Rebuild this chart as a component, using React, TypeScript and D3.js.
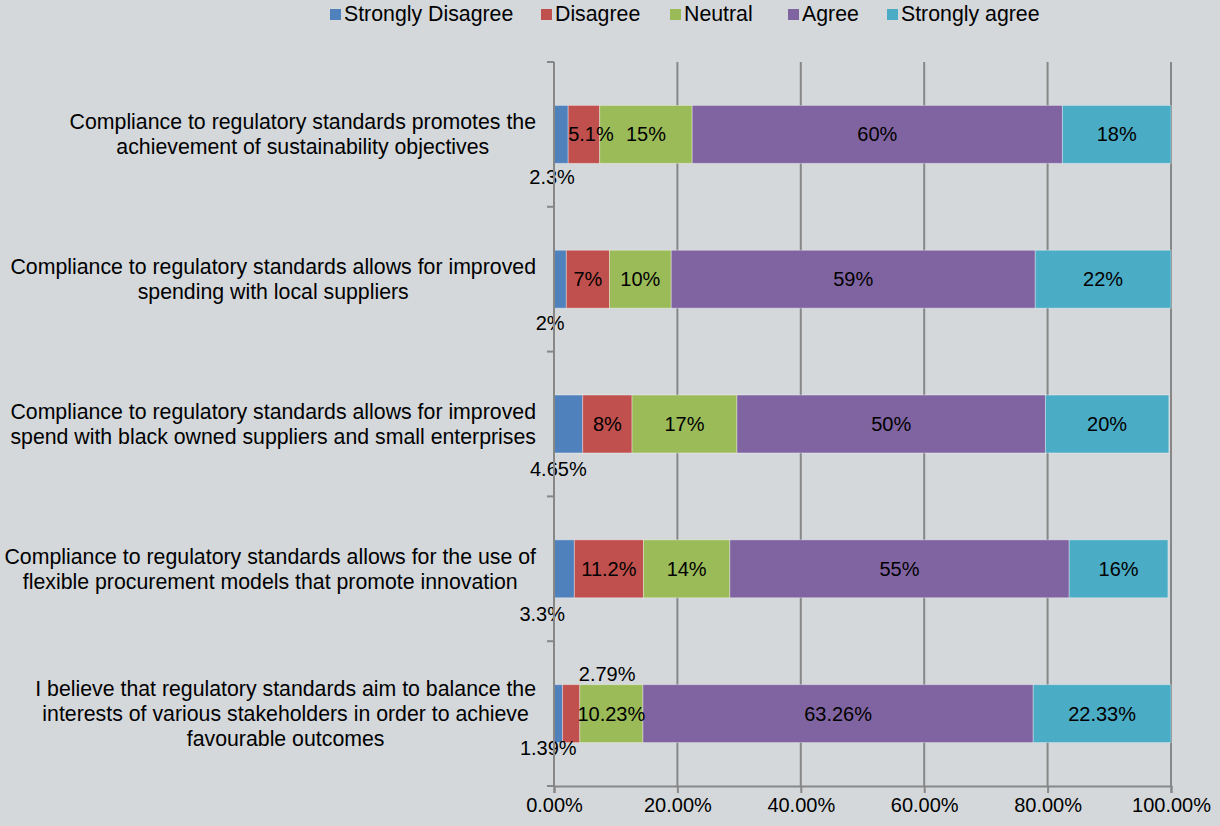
import * as React from "react";
import * as d3 from "d3";

const categories = [
  "Compliance to regulatory standards promotes the\nachievement of sustainability objectives",
  "Compliance to regulatory standards allows for improved\nspending with local suppliers",
  "Compliance to regulatory standards allows for improved\nspend with black owned suppliers and small enterprises",
  "Compliance to regulatory standards allows for the use of\nflexible procurement models that promote innovation",
  "I believe that regulatory standards aim to balance the\ninterests of various stakeholders in order to achieve\nfavourable outcomes",
];
const seriesNames = ["Strongly Disagree", "Disagree", "Neutral", "Agree", "Strongly agree"];
const stronglyDisagree = [2.3, 2, 4.65, 3.3, 1.39];
const disagree = [5.1, 7, 8, 11.2, 2.79];
const neutral = [15, 10, 17, 14, 10.23];
const agree = [60, 59, 50, 55, 63.26];
const stronglyAgree = [18, 22, 20, 16, 22.33];
const valueLabels = [
  ["2.3%", "5.1%", "15%", "60%", "18%"],
  ["2%", "7%", "10%", "59%", "22%"],
  ["4.65%", "8%", "17%", "50%", "20%"],
  ["3.3%", "11.2%", "14%", "55%", "16%"],
  ["1.39%", "2.79%", "10.23%", "63.26%", "22.33%"],
];
const xTicks = [0, 20, 40, 60, 80, 100];

const colors = ["#4f81bd", "#c0504d", "#9bbb59", "#8064a2", "#4bacc6"];
// hand-moved data labels (dx, dy from segment centre), like in the original
const labelShift: Record<string, [number, number]> = {
  "0-0": [-9, 43],
  "0-1": [7, 0],
  "1-0": [-10, 44],
  "2-0": [-10, 45],
  "3-0": [-22, 45],
  "4-0": [-10, 34],
  "4-1": [36, -40],
};

export default function App() {
  const ref = React.useRef<SVGSVGElement | null>(null);

  React.useEffect(() => {
    document.body.style.margin = "0";
    const width = 1220;
    const height = 826;
    const margin = { top: 62, right: 49, bottom: 40, left: 554 };
    const font = "'Liberation Sans', Arial, sans-serif";
    const bigFont = 21.3;

    const svg = d3.select(ref.current);
    svg.selectAll("*").remove();
    svg.append("rect").attr("width", width).attr("height", height).attr("fill", "#d4d8db");

    const x = d3.scaleLinear([0, 100], [margin.left, width - margin.right]);
    const y = d3
      .scaleBand<number>()
      .domain(d3.range(categories.length))
      .range([margin.top, height - margin.bottom])
      .paddingInner(0.6)
      .paddingOuter(0.3);

    const rows = categories.map((_, i) => [
      stronglyDisagree[i],
      disagree[i],
      neutral[i],
      agree[i],
      stronglyAgree[i],
    ]);

    // gridlines
    svg
      .append("g")
      .selectAll("line")
      .data(xTicks.slice(1))
      .enter()
      .append("line")
      .attr("x1", (d) => x(d))
      .attr("x2", (d) => x(d))
      .attr("y1", margin.top)
      .attr("y2", height - margin.bottom)
      .attr("stroke", "#878787")
      .attr("stroke-width", 2);

    // bars first, labels on top
    const barG = svg.append("g");
    const labelG = svg.append("g");
    rows.forEach((vals, i) => {
      let acc = 0;
      vals.forEach((v, j) => {
        const x0 = Math.min(acc, 100);
        const x1 = Math.min(acc + v, 100);
        acc += v;
        barG
          .append("rect")
          .attr("x", x(x0))
          .attr("y", y(i)!)
          .attr("width", x(x1) - x(x0))
          .attr("height", y.bandwidth())
          .attr("fill", colors[j])
          .attr("stroke", "rgba(255,255,255,0.35)")
          .attr("stroke-width", 1);
        const shift = labelShift[`${i}-${j}`] || [0, 0];
        labelG
          .append("text")
          .attr("x", (x(x0) + x(x1)) / 2 + shift[0])
          .attr("y", y(i)! + y.bandwidth() / 2 + shift[1])
          .attr("dy", "0.35em")
          .attr("text-anchor", "middle")
          .attr("font-family", font)
          .attr("font-size", 20)
          .attr("fill", "#000")
          .text(valueLabels[i][j]);
      });
    });

    // left axis
    const axisColor = "#878787";
    const yAxis = svg.append("g");
    yAxis
      .append("line")
      .attr("x1", margin.left)
      .attr("x2", margin.left)
      .attr("y1", margin.top)
      .attr("y2", height - margin.bottom)
      .attr("stroke", axisColor)
      .attr("stroke-width", 2);
    const bounds = d3.range(categories.length + 1).map((k) => margin.top + k * y.step());
    yAxis
      .selectAll(".tick")
      .data(bounds)
      .enter()
      .append("line")
      .attr("x1", margin.left - 7)
      .attr("x2", margin.left)
      .attr("y1", (d) => d)
      .attr("y2", (d) => d)
      .attr("stroke", axisColor)
      .attr("stroke-width", 2);

    // bottom axis
    const xAxis = d3
      .axisBottom(x)
      .tickValues(xTicks)
      .tickSize(7)
      .tickFormat((d) => `${(+d).toFixed(2)}%`);
    const xg = svg
      .append("g")
      .attr("transform", `translate(0,${height - margin.bottom})`)
      .call(xAxis);
    xg.select(".domain").attr("stroke", axisColor).attr("stroke-width", 2);
    xg.selectAll(".tick line").attr("stroke", axisColor).attr("stroke-width", 2);
    xg.selectAll(".tick text")
      .attr("font-family", font)
      .attr("font-size", 20)
      .attr("fill", "#000")
      .attr("y", 12);

    // category labels: centred lines, block right-aligned
    const lineH = 25;
    categories.forEach((c, i) => {
      const lines = c.split("\n");
      const t = svg
        .append("text")
        .attr("font-family", font)
        .attr("font-size", bigFont)
        .attr("fill", "#000")
        .attr("text-anchor", "middle");
      const cy = y(i)! + y.bandwidth() / 2;
      const spans = lines.map((l, k) =>
        t
          .append("tspan")
          .attr("x", 0)
          .attr("y", cy + (k - (lines.length - 1) / 2) * lineH)
          .attr("dy", "0.35em")
          .text(l)
      );
      const maxW = d3.max(spans, (s) => (s.node() as SVGTSpanElement).getComputedTextLength()) || 0;
      const cx = 536 - maxW / 2;
      spans.forEach((s) => s.attr("x", cx));
    });

    // legend
    const legendX = [330, 541, 670, 788, 887];
    const lg = svg.append("g");
    seriesNames.forEach((s, j) => {
      lg.append("rect")
        .attr("x", legendX[j])
        .attr("y", 9)
        .attr("width", 11)
        .attr("height", 11)
        .attr("fill", colors[j]);
      lg.append("text")
        .attr("x", legendX[j] + 14)
        .attr("y", 14)
        .attr("dy", "0.35em")
        .attr("font-family", font)
        .attr("font-size", bigFont)
        .attr("fill", "#000")
        .text(s);
    });
  }, []);

  return <svg ref={ref} width={1220} height={826} style={{ display: "block" }} />;
}
